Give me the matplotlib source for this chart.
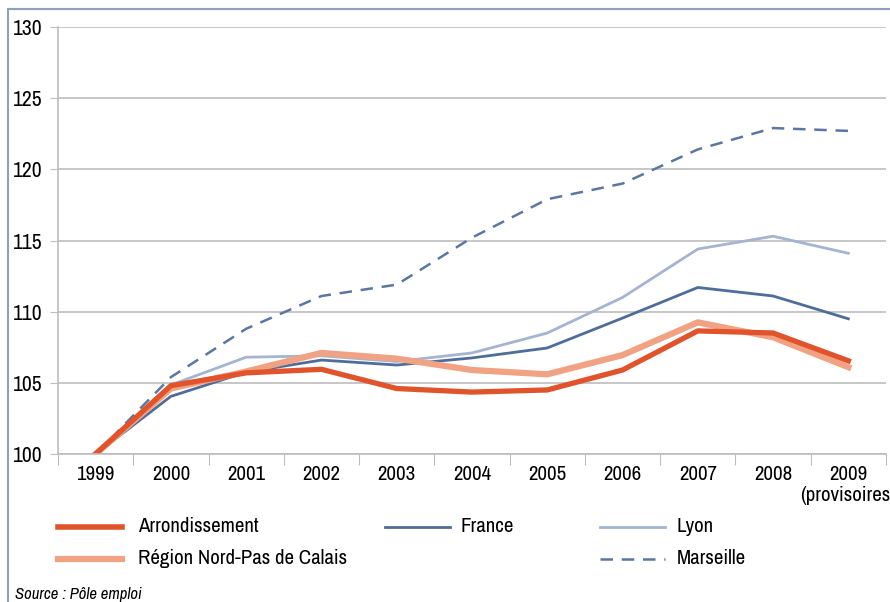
import matplotlib
matplotlib.use('Agg')
import matplotlib.pyplot as plt
from matplotlib.lines import Line2D
from matplotlib.patches import Rectangle

# narrow font first, plain ones as fallback
plt.rcParams['font.family'] = ['Archivo Narrow', 'Liberation Sans', 'DejaVu Sans']

years = ['1999', '2000', '2001', '2002', '2003', '2004', '2005', '2006', '2007', '2008', '2009\n(provisoires)']
arrondissement = [100, 104.8, 105.7, 105.95, 104.6, 104.35, 104.5, 105.9, 108.65, 108.5, 106.55]
region = [100, 104.6, 105.8, 107.1, 106.7, 105.9, 105.6, 106.95, 109.25, 108.2, 106.1]
france = [100, 104.05, 105.75, 106.6, 106.25, 106.75, 107.45, 109.55, 111.7, 111.1, 109.5]
lyon = [100, 104.85, 106.8, 106.9, 106.5, 107.1, 108.5, 111.0, 114.4, 115.3, 114.1]
marseille = [100, 105.4, 108.8, 111.1, 111.9, 115.2, 117.9, 119.0, 121.4, 122.9, 122.7]

c_arr = '#E0532B'
c_reg = '#F1A283'
c_fra = '#4E6D9B'
c_lyo = '#A4B4D1'
c_mar = '#5A76A2'

fig = plt.figure(figsize=(8.9, 6.02), dpi=100)
W, H = 890, 602
ax = fig.add_axes([58 / W, (H - 454) / H, 828 / W, (454 - 27) / H])

x = list(range(len(years)))
ax.plot(x, marseille, color=c_mar, lw=1.8, ls=(0, (5, 3.5)))
ax.plot(x, lyon, color=c_lyo, lw=2)
ax.plot(x, france, color=c_fra, lw=2)
ax.plot(x, region, color=c_reg, lw=4.5)
ax.plot(x, arrondissement, color=c_arr, lw=3.8)

ax.set_xlim(-0.5, len(years) - 0.5)
ax.set_ylim(100, 130)
ax.set_yticks(range(100, 131, 5))
ax.yaxis.grid(True, color='#BDBDBD', lw=1.2)
ax.set_axisbelow(True)
for s in ['top', 'right']:
    ax.spines[s].set_visible(False)
ax.spines['left'].set_color('#BDBDBD')
ax.spines['bottom'].set_color('#BDBDBD')
ax.spines['left'].set_linewidth(1.2)
ax.spines['bottom'].set_linewidth(1.2)
ax.tick_params(axis='y', length=6, color='#BDBDBD', labelsize=15.5, pad=5)

ax.set_xticks([i - 0.5 for i in range(len(years) + 1)])
ax.set_xticklabels([])
ax.set_xticks(x, minor=True)
ax.set_xticklabels(years, minor=True, fontsize=15, va='top', linespacing=1.1)
ax.tick_params(axis='x', which='major', length=8, color='#BDBDBD')
ax.tick_params(axis='x', which='minor', length=0, pad=8)

# legend drawn by hand, in pixel positions
def px(xp, yp):
    return xp / W, 1 - yp / H

items = [
    (58, 122, 138, 527, 'Arrondissement', c_arr, 4, '-'),
    (385, 450, 460, 527, 'France', c_fra, 2, '-'),
    (600, 665, 677, 527, 'Lyon', c_lyo, 2, '-'),
    (58, 122, 138, 559, 'Région Nord-Pas de Calais', c_reg, 4.5, '-'),
    (600, 665, 677, 559, 'Marseille', c_mar, 1.8, (0, (5, 3.5))),
]
for x0, x1, xt, yy, lab, col, lw, ls in items:
    a, b = px(x0, yy)
    c, d = px(x1, yy)
    fig.add_artist(Line2D([a, c], [b, d], color=col, lw=lw, ls=ls, transform=fig.transFigure))
    fig.text(xt / W, 1 - yy / H, lab, fontsize=15, va='center', ha='left')

fig.text(15 / W, 1 - 594 / H, 'Source : Pôle emploi', fontsize=12, style='italic', va='center')

fig.add_artist(Rectangle((8 / W, -0.1), 1.2, 1 - 9 / H + 0.1, transform=fig.transFigure,
                         fill=False, ec='#8DA0C0', lw=1.5))

fig.savefig('out.png', dpi=100)
